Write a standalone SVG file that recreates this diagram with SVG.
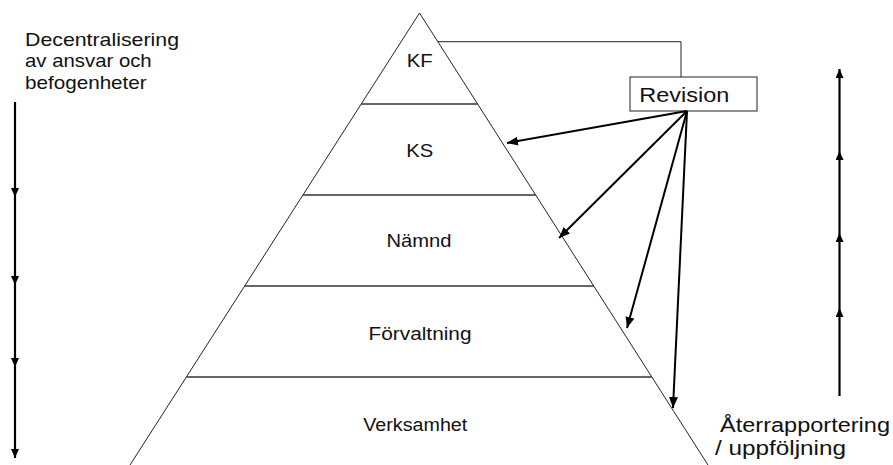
<svg xmlns="http://www.w3.org/2000/svg" width="893" height="465" viewBox="0 0 893 465">
<style>
text{font-family:"Liberation Sans",Arial,sans-serif;fill:#111}
.lvl{font-size:17.5px;text-anchor:middle}
.edge{stroke:#222;stroke-width:1;fill:none}
.sep{stroke:#333;stroke-width:1.3;fill:none}
.arr{stroke:#000;stroke-width:2;fill:none}
.side{stroke:#000;stroke-width:2.2;fill:none}
</style>
<defs>
<marker id="ah" markerUnits="userSpaceOnUse" markerWidth="12" markerHeight="10" refX="11" refY="4.5" orient="auto">
<path d="M0,0 L11,4.5 L0,9 z" fill="#000"/>
</marker>
<marker id="sh" markerUnits="userSpaceOnUse" markerWidth="10" markerHeight="10" refX="9" refY="4" orient="auto">
<path d="M0,0 L9,4 L0,8 z" fill="#000"/>
</marker>
</defs>
<rect width="893" height="465" fill="#fff"/>
<g id="pyramid">
<path class="edge" d="M130,465 L419.5,13 L708,465"/>
<line class="sep" x1="361.2" y1="104" x2="477.6" y2="104"/>
<line class="sep" x1="302.9" y1="195" x2="535.7" y2="195"/>
<line class="sep" x1="244.6" y1="286" x2="593.8" y2="286"/>
<line class="sep" x1="186.4" y1="377" x2="651.8" y2="377"/>
</g>
<g id="kf"><text class="lvl" x="419.7" y="66.7" font-size="18.5" style="font-size:18.5px" textLength="26" lengthAdjust="spacingAndGlyphs">KF</text></g>
<g id="ks"><text class="lvl" x="419.7" y="157.3" style="font-size:18.5px" textLength="27" lengthAdjust="spacingAndGlyphs">KS</text></g>
<g id="namnd"><text class="lvl" x="419" y="247.3" textLength="65" lengthAdjust="spacingAndGlyphs">Nämnd</text></g>
<g id="forvaltning"><text class="lvl" x="420" y="340" textLength="103" lengthAdjust="spacingAndGlyphs">Förvaltning</text></g>
<g id="verksamhet"><text class="lvl" x="415.3" y="431" textLength="104" lengthAdjust="spacingAndGlyphs">Verksamhet</text></g>
<g id="revision">
<rect x="630" y="77" width="127" height="34" fill="#fff" stroke="#222" stroke-width="1"/>
<text x="639.3" y="101.7" style="font-size:20px" textLength="90" lengthAdjust="spacingAndGlyphs">Revision</text>
</g>
<g id="left-label">
<text x="25" y="46" style="font-size:19px" textLength="154" lengthAdjust="spacingAndGlyphs">Decentralisering</text>
<text x="25" y="67" style="font-size:19px" textLength="126.7" lengthAdjust="spacingAndGlyphs">av ansvar och</text>
<text x="25" y="88.5" style="font-size:19px" textLength="121.7" lengthAdjust="spacingAndGlyphs">befogenheter</text>
</g>
<g id="right-label">
<text x="720" y="431.7" style="font-size:20px" textLength="170" lengthAdjust="spacingAndGlyphs">Återrapportering</text>
<text x="715" y="455" style="font-size:20px" textLength="131" lengthAdjust="spacingAndGlyphs">/ uppföljning</text>
</g>
<g id="connectors">
<polyline class="edge" points="437.5,41.7 681,41.7 681,77"/>
<line class="arr" x1="687" y1="111" x2="507" y2="143" marker-end="url(#ah)"/>
<line class="arr" x1="687" y1="111" x2="559" y2="238" marker-end="url(#ah)"/>
<line class="arr" x1="687" y1="111" x2="627" y2="328" marker-end="url(#ah)"/>
<line class="arr" x1="687" y1="111" x2="673" y2="408" marker-end="url(#ah)"/>
<line class="side" x1="15" y1="102" x2="15" y2="197" marker-end="url(#sh)"/>
<line class="side" x1="15" y1="197" x2="15" y2="285" marker-end="url(#sh)"/>
<line class="side" x1="15" y1="285" x2="15" y2="367" marker-end="url(#sh)"/>
<line class="side" x1="15" y1="367" x2="15" y2="458" marker-end="url(#sh)"/>
<line class="side" x1="839.5" y1="396" x2="839.5" y2="308" marker-end="url(#sh)"/>
<line class="side" x1="839.5" y1="308" x2="839.5" y2="233" marker-end="url(#sh)"/>
<line class="side" x1="839.5" y1="233" x2="839.5" y2="151" marker-end="url(#sh)"/>
<line class="side" x1="839.5" y1="151" x2="839.5" y2="69" marker-end="url(#sh)"/>
</g>
</svg>
